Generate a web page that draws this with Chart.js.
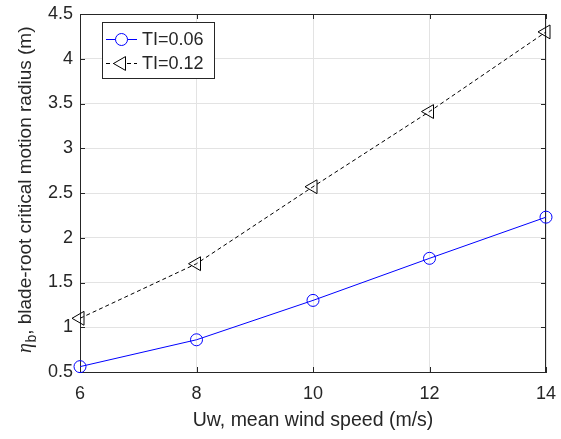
<!DOCTYPE html>
<html>
<head>
<meta charset="utf-8">
<script src="https://cdn.jsdelivr.net/npm/chart.js@4"></script>
<style>
    html, body { margin: 0; padding: 0; background: #fff; }
</style>
</head>
<body>
<canvas id="myChart" width="561" height="439"></canvas>
<script>
// ===============================
// Datos
// ===============================
const windSpeed = [6, 8, 10, 12, 14];
const radiusTI006 = [0.56, 0.86, 1.30, 1.77, 2.23];
const radiusTI012 = [1.10, 1.71, 2.57, 3.41, 4.30];
const seriesLabels = ['TI=0.06', 'TI=0.12'];
const xTicks = [6, 8, 10, 12, 14];
const yTicks = [0.5, 1, 1.5, 2, 2.5, 3, 3.5, 4, 4.5];
const xTitle = 'Uw, mean wind speed (m/s)';
const yTitleRest = ', blade-root critical motion radius (m)';

const axisColor = '#262626';
const gridColor = '#e3e3e3';
const FONT = '"Liberation Sans", Arial, Helvetica, sans-serif';

function toPoints(xs, ys) {
    return xs.map((x, i) => ({ x: x, y: ys[i] }));
}

// ===============================
// Caja, marcas internas (estilo MATLAB)
// ===============================
const boxPlugin = {
    id: 'boxPlugin',
    beforeDatasetsDraw(chart) {
        const { ctx, chartArea: a, scales } = chart;
        ctx.save();
        ctx.strokeStyle = axisColor;
        ctx.lineWidth = 1;
        ctx.beginPath();
        ctx.moveTo(a.left, a.top + 0.5);
        ctx.lineTo(a.right, a.top + 0.5);
        ctx.moveTo(a.right - 0.5, a.top);
        ctx.lineTo(a.right - 0.5, a.bottom);
        const tl = 5;
        xTicks.forEach(v => {
            const px = Math.round(scales.x.getPixelForValue(v)) + 0.5;
            ctx.moveTo(px, a.bottom);
            ctx.lineTo(px, a.bottom - tl);
            ctx.moveTo(px, a.top);
            ctx.lineTo(px, a.top + tl);
        });
        yTicks.forEach(v => {
            const py = Math.round(scales.y.getPixelForValue(v)) + 0.5;
            ctx.moveTo(a.left, py);
            ctx.lineTo(a.left + tl, py);
            ctx.moveTo(a.right, py);
            ctx.lineTo(a.right - tl, py);
        });
        ctx.stroke();
        ctx.restore();
    },
    afterDraw(chart) {
        const { ctx, chartArea: a } = chart;

        // Título del eje Y con subíndice
        ctx.save();
        const cy = (a.top + a.bottom) / 2 - 3;
        ctx.translate(31, cy);
        ctx.rotate(-Math.PI / 2);
        ctx.fillStyle = axisColor;
        ctx.textBaseline = 'alphabetic';
        const fEta = 'italic 20px "Liberation Serif", "DejaVu Serif", serif';
        const fSub = '14px ' + FONT;
        const fMain = '19px ' + FONT;
        ctx.font = fEta; const wEta = ctx.measureText('η').width;
        ctx.font = fSub; const wSub = ctx.measureText('b').width;
        ctx.font = fMain; const wMain = ctx.measureText(yTitleRest).width;
        let x0 = -(wEta + wSub + wMain) / 2;
        ctx.font = fEta; ctx.fillText('η', x0, 0); x0 += wEta + 0.5;
        ctx.font = fSub; ctx.fillText('b', x0, 5); x0 += wSub;
        ctx.font = fMain; ctx.fillText(yTitleRest, x0, 0);
        ctx.restore();

        // Leyenda
        ctx.save();
        const bx = a.left + 22, by = a.top + 8, bw = 112, bh = 56;
        ctx.fillStyle = '#fff';
        ctx.fillRect(bx, by, bw, bh);
        ctx.strokeStyle = axisColor;
        ctx.lineWidth = 1;
        ctx.strokeRect(bx + 0.5, by + 0.5, bw, bh);
        chart.data.datasets.forEach((ds, i) => {
            const ry = by + 17 + i * 24;
            const lx0 = bx + 4, lx1 = bx + 35, mx = (lx0 + lx1) / 2;
            ctx.strokeStyle = ds.borderColor;
            ctx.lineWidth = 1;
            ctx.setLineDash(ds.borderDash || []);
            ctx.beginPath();
            ctx.moveTo(lx0, ry + 0.5);
            ctx.lineTo(lx1, ry + 0.5);
            ctx.stroke();
            ctx.setLineDash([]);
            ctx.fillStyle = '#ffffff';
            ctx.strokeStyle = ds.borderColor;
            Chart.helpers.drawPoint(ctx, {
                pointStyle: ds.pointStyle,
                radius: ds.pointRadius,
                rotation: ds.pointRotation || 0,
                borderWidth: 1
            }, mx, ry + 0.5);
            ctx.fillStyle = axisColor;
            ctx.font = '18px ' + FONT;
            ctx.textBaseline = 'middle';
            ctx.textAlign = 'left';
            ctx.fillText(ds.label, bx + 40, ry + 1);
        });
        ctx.restore();
    }
};

// ===============================
// Renderizar gráfica
// ===============================
const ctx = document.getElementById('myChart').getContext('2d');

const myChart = new Chart(ctx, {
    type: 'line',
    data: {
        datasets: [
            {
                label: seriesLabels[0],
                data: toPoints(windSpeed, radiusTI006),
                borderColor: '#0000ff',
                backgroundColor: 'rgba(0,0,0,0)',
                borderWidth: 1,
                pointStyle: 'circle',
                pointRadius: 6,
                pointBorderWidth: 1,
                tension: 0,
                clip: false
            },
            {
                label: seriesLabels[1],
                data: toPoints(windSpeed, radiusTI012),
                borderColor: '#000000',
                backgroundColor: 'rgba(0,0,0,0)',
                borderWidth: 1,
                borderDash: [4, 3],
                pointStyle: 'triangle',
                pointRotation: -90,
                pointRadius: 8,
                pointBorderWidth: 1,
                tension: 0,
                clip: false
            }
        ]
    },
    options: {
        responsive: false,
        animation: false,
        devicePixelRatio: 1,
        layout: { padding: { left: 0, top: 14, right: 15, bottom: 0 } },
        plugins: {
            legend: { display: false },
            tooltip: { enabled: false }
        },
        scales: {
            x: {
                type: 'linear',
                min: 6,
                max: 14,
                afterBuildTicks: (scale) => { scale.ticks = xTicks.map(v => ({ value: v })); },
                afterFit: (scale) => {
                    scale.height = 67;
                    scale.paddingLeft = 0;
                    scale.paddingRight = 0;
                },
                ticks: {
                    color: axisColor,
                    font: { family: FONT, size: 18 },
                    padding: 11,
                    maxRotation: 0,
                    callback: (v) => String(v)
                },
                grid: { color: gridColor, drawTicks: false },
                border: { display: true, color: axisColor, width: 1 },
                title: {
                    display: true,
                    text: xTitle,
                    color: axisColor,
                    font: { family: FONT, size: 19.5 },
                    padding: { top: 0, bottom: 7 }
                }
            },
            y: {
                type: 'linear',
                min: 0.5,
                max: 4.5,
                afterBuildTicks: (scale) => { scale.ticks = yTicks.map(v => ({ value: v })); },
                afterFit: (scale) => {
                    scale.width = 80;
                    scale.paddingTop = 0;
                    scale.paddingBottom = 0;
                },
                ticks: {
                    color: axisColor,
                    font: { family: FONT, size: 18 },
                    padding: 7,
                    callback: (v) => String(v)
                },
                grid: { color: gridColor, drawTicks: false },
                border: { display: true, color: axisColor, width: 1 }
            }
        }
    },
    plugins: [boxPlugin]
});
</script>
</body>
</html>
